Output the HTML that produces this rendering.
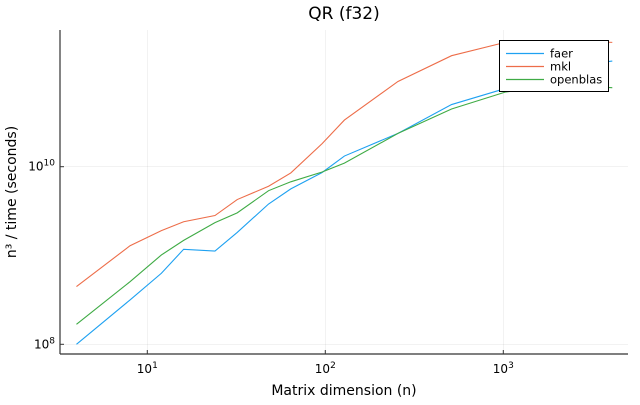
<!DOCTYPE html>
<html><head><meta charset="utf-8"><style>
body{margin:0;background:#fff;}
svg text{font-family:"DejaVu Sans","Liberation Sans",sans-serif;fill:#000;}
</style></head><body>
<svg id="chart" width="640" height="400" xmlns="http://www.w3.org/2000/svg">
<rect width="640" height="400" fill="#fff"/>
<g id="grid"></g>
<g id="series"></g>
<g id="axes"></g>
<text x="344" y="19" font-size="17" text-anchor="middle">QR (f32)</text>
<text x="344" y="395" font-size="14" text-anchor="middle">Matrix dimension (n)</text>
<text transform="translate(16,192) rotate(-90)" font-size="14" text-anchor="middle">n³ / time (seconds)</text>
<g id="legend"></g>
</svg>
<script>
const sizes=[4,8,12,16,24,32,48,64,96,128,256,512,1024,2048,4096];
const faer=[8.0,8.5,8.80,9.07,9.05,9.26,9.58,9.75,9.935,10.12,10.375,10.70,10.88,11.12,11.19];
const mkl=[8.65,9.11,9.28,9.38,9.45,9.63,9.78,9.93,10.26,10.525,10.96,11.25,11.40,11.42,11.40];
const openblas=[8.225,8.705,9.006,9.17,9.37,9.48,9.73,9.83,9.94,10.04,10.375,10.65,10.84,10.92,10.89];
const xTicks=[1,2,3];
const yTicks=[8,10];
const seriesNames=["faer","mkl","openblas"];
const colors=["#1ea1f1","#ed6d49","#3fab45"];
const ns="http://www.w3.org/2000/svg";
const X0=60,X1=628,Y0=30,Y1=354;
function xs(v){return 147.3+178*(Math.log10(v)-1);}
function ys(l){return 344.3-88.8*(l-8);}
function el(t,a,p){const e=document.createElementNS(ns,t);for(const k in a)e.setAttribute(k,a[k]);p.appendChild(e);return e;}
const grid=document.getElementById('grid'),axes=document.getElementById('axes'),ser=document.getElementById('series'),leg=document.getElementById('legend');
xTicks.forEach(t=>{const x=xs(Math.pow(10,t));
const g=el('line',{x1:x,x2:x,y1:Y0,y2:Y1,stroke:'#000','stroke-opacity':0.1,'stroke-width':0.5},grid);


el('line',{x1:x,x2:x,y1:Y1,y2:Y1-4,stroke:'#333'},axes);
const tx=el('text',{x:x,y:Y1+19,'font-size':12,'text-anchor':'middle'},axes);


tx.innerHTML='10<tspan dy="-5" font-size="9">'+t+'</tspan>';});
yTicks.forEach(t=>{const y=ys(t);
const g=el('line',{x1:X0,x2:X1,y1:y,y2:y,stroke:'#000','stroke-opacity':0.1,'stroke-width':0.5},grid);


el('line',{x1:X0,x2:X0+4,y1:y,y2:y,stroke:'#333'},axes);
const tx=el('text',{x:X0-5,y:y+4,'font-size':12,'text-anchor':'end'},axes);


tx.innerHTML='10<tspan dy="-5" font-size="9">'+t+'</tspan>';});
const xa=el('line',{x1:X0,x2:X1,y1:Y1,y2:Y1,stroke:'#333','stroke-width':1.2},axes);


const ya=el('line',{x1:X0,x2:X0,y1:Y0,y2:Y1,stroke:'#333','stroke-width':1.2},axes);


[faer,mkl,openblas].forEach((d,i)=>{
const p=el('polyline',{points:d.map((v,j)=>xs(sizes[j])+','+ys(v)).join(' '),fill:'none',stroke:colors[i],'stroke-width':1.1},ser);

});
const box=el('rect',{x:499.5,y:40.5,width:109,height:51,fill:'#fff',stroke:'#000','stroke-width':1},leg);


seriesNames.forEach((n,i)=>{const y=53.5+13*i;
const g=el('g',{},leg);


el('line',{x1:506,x2:544,y1:y,y2:y,stroke:colors[i],'stroke-width':1.2},g);
const t=el('text',{x:550,y:y+4,'font-size':11.5},g);t.textContent=n;});
</script>
</body></html>
